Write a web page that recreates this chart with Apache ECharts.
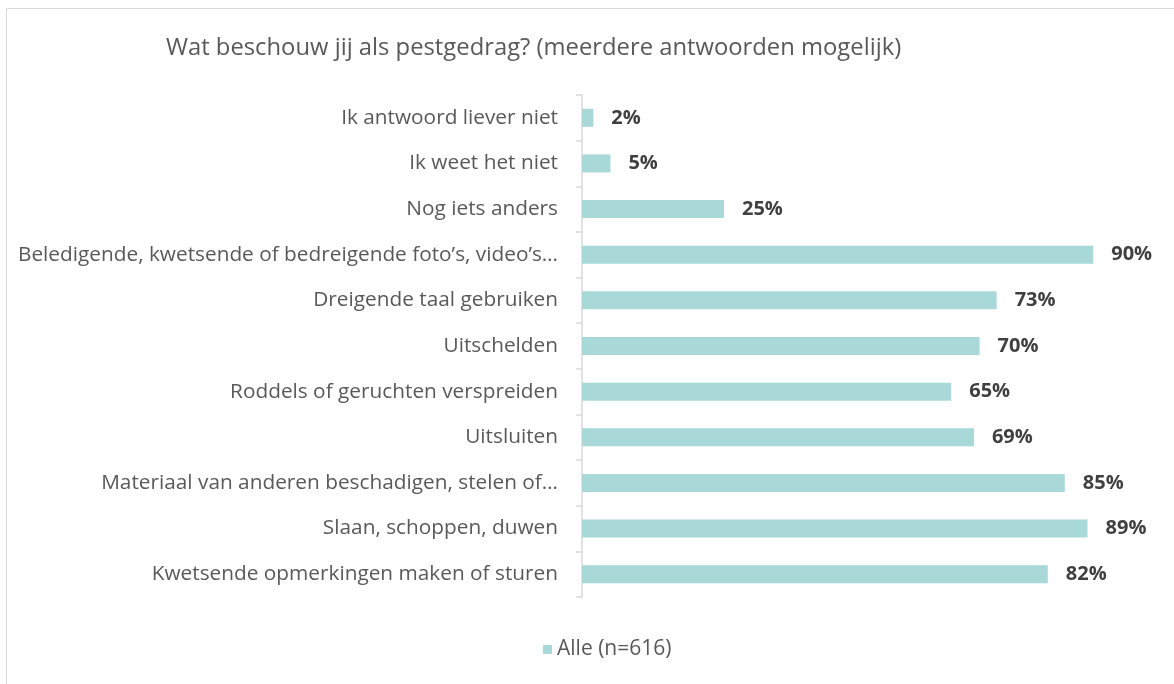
<!DOCTYPE html>
<html lang="nl">
<head>
    <meta charset="UTF-8">
    <title>Pestgedrag</title>
    <script src="https://cdn.jsdelivr.net/npm/echarts@6/dist/echarts.min.js"></script>
    <style>
        html, body { margin: 0; padding: 0; background: #fff; }
        #main { width: 1174px; height: 684px; }
    </style>
</head>
<body>
<div id="main"></div>
<script>
    // categories from top to bottom as in the picture
    var categories = [
        'Ik antwoord liever niet',
        'Ik weet het niet',
        'Nog iets anders',
        'Beledigende, kwetsende of bedreigende foto\u2019s, video\u2019s\u2026',
        'Dreigende taal gebruiken',
        'Uitschelden',
        'Roddels of geruchten verspreiden',
        'Uitsluiten',
        'Materiaal van anderen beschadigen, stelen of\u2026',
        'Slaan, schoppen, duwen',
        'Kwetsende opmerkingen maken of sturen'
    ];
    var values = [2, 5, 25, 90, 73, 70, 65, 69, 85, 89, 82];
    var seriesName = 'Alle (n=616)';

    var myChart = echarts.init(document.getElementById('main'));
    var font = '"Open Sans", sans-serif';

    var option = {
        animation: false,
        title: {
            text: 'Wat beschouw jij als pestgedrag? (meerdere antwoorden mogelijk)',
            left: 161,
            top: 31,
            textStyle: { fontFamily: font, fontSize: 23.8, fontWeight: 'normal', color: '#595959' }
        },
        graphic: [{
            type: 'rect',
            shape: { x: 6.5, y: 8.5, width: 1300, height: 800 },
            style: { fill: 'none', stroke: '#d9d9d9', lineWidth: 1 }
        }],
        legend: {
            bottom: 19,
            left: 538,
            itemWidth: 9,
            itemHeight: 9,
            itemGap: 6,
            icon: 'rect',
            textStyle: { fontFamily: font, fontSize: 21, color: '#595959' },
            data: [seriesName]
        },
        grid: {
            left: 582,
            right: 24,
            top: 95,
            bottom: 87,
            containLabel: false
        },
        xAxis: {
            type: 'value',
            min: 0,
            max: 100,
            show: false
        },
        yAxis: {
            type: 'category',
            inverse: true,
            data: categories,
            axisLine: { show: true, lineStyle: { color: '#d9d9d9', width: 1.5 } },
            axisTick: { show: true, length: 6, lineStyle: { color: '#d9d9d9', width: 1.5 } },
            axisLabel: { fontFamily: font, fontSize: 20.8, color: '#595959', margin: 24 }
        },
        series: [{
            name: seriesName,
            type: 'bar',
            data: values,
            barWidth: 18,
            itemStyle: { color: '#a8d8d8' },
            label: {
                show: true,
                position: 'right',
                distance: 18,
                formatter: '{c}%',
                fontFamily: font,
                fontSize: 20,
                fontWeight: 'bold',
                color: '#404040'
            }
        }]
    };
    myChart.setOption(option);
</script>
</body>
</html>
